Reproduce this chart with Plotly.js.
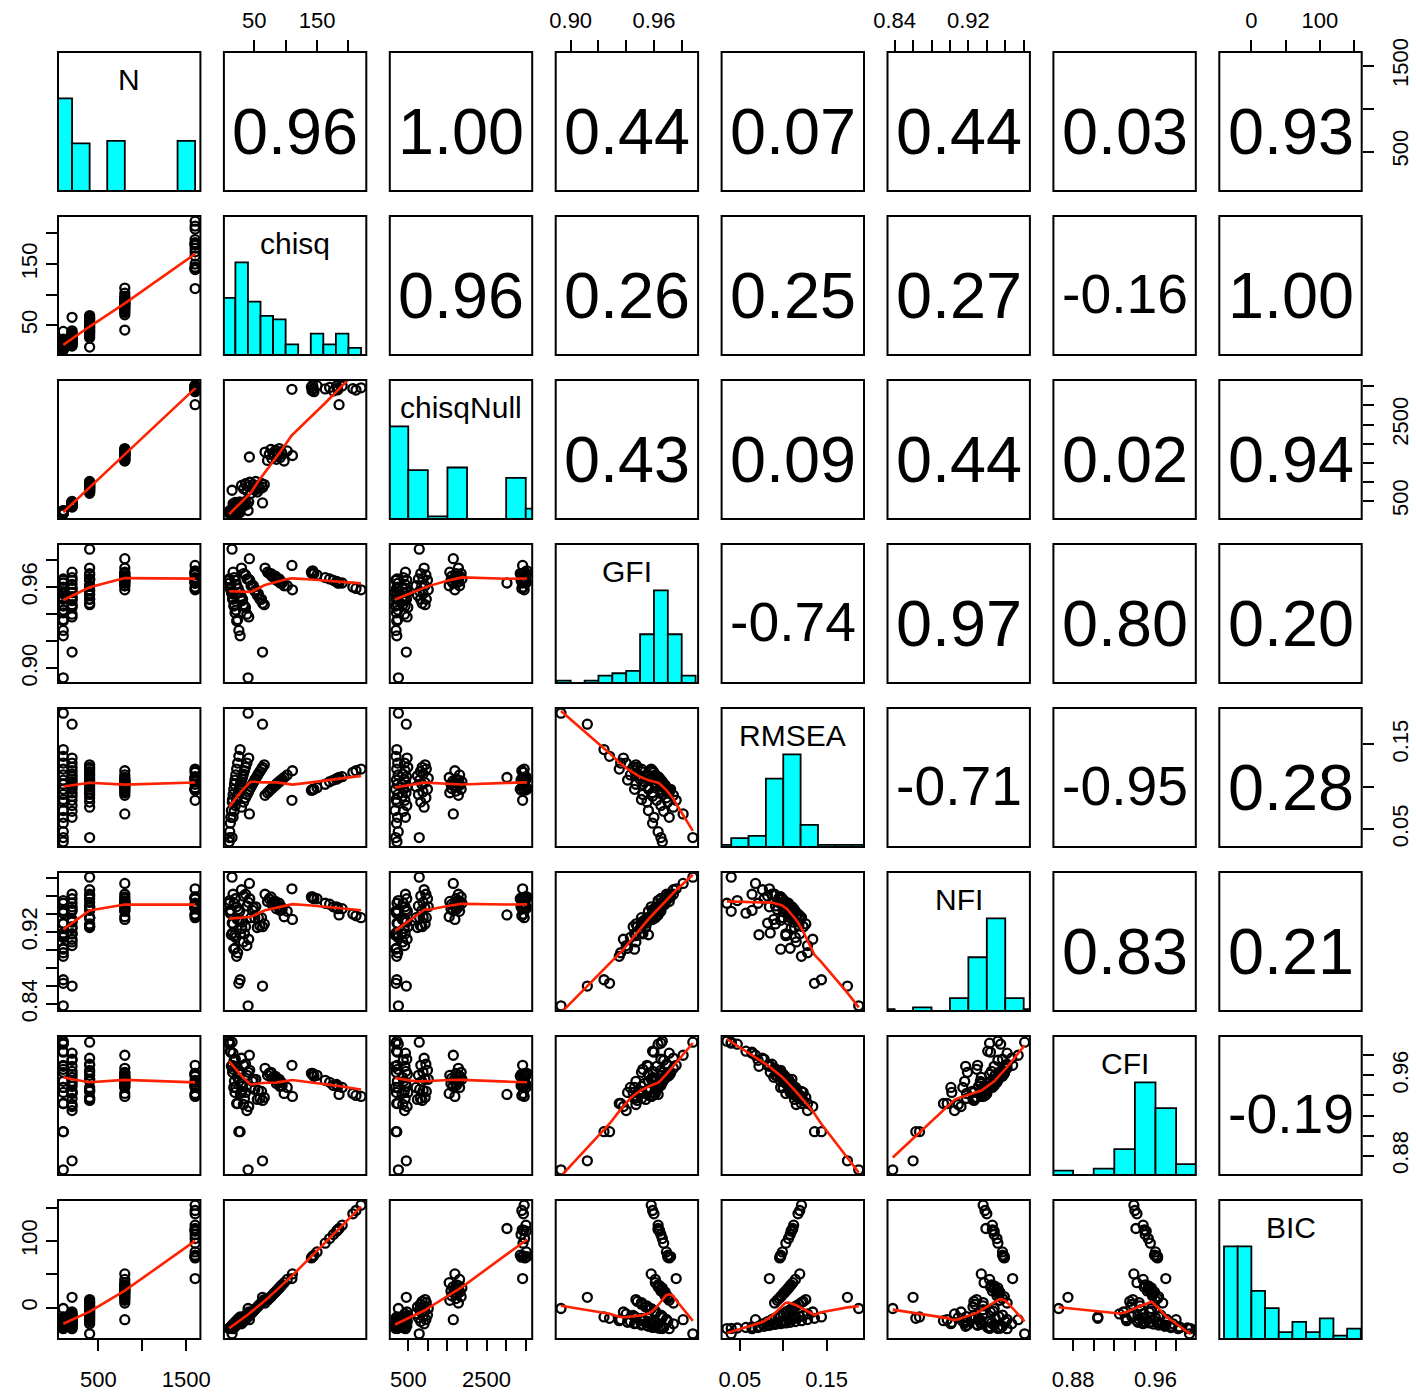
<!DOCTYPE html>
<html>
<head>
<meta charset="utf-8">
<script src="https://cdn.plot.ly/plotly-3.0.1.min.js"></script>
<style>
html, body { margin: 0; padding: 0; background: #ffffff; }
#chart { width: 1416px; height: 1397px; }
</style>
</head>
<body>
<div id="chart"></div>
<script>
// ---------------- data (one row per fitted model) ----------------
const varNames = ['N', 'chisq', 'chisqNull', 'GFI', 'RMSEA', 'NFI', 'CFI', 'BIC'];

const sampleN = [
  100,100,100,100,100,100,100,100,100,100,100,100,100,100,100,100,100,100,
  200,200,200,200,200,200,200,200,200,200,200,200,200,200,200,200,200,200,
  400,400,400,400,400,400,400,400,400,400,400,400,400,400,400,400,400,400,
  800,800,800,800,800,800,800,800,800,800,800,800,800,800,800,800,800,800,800,
  1600,1600,1600,1600,1600,1600,1600,1600,1600,1600,1600,1600,1600,1600,1600,1600,1600,1600
];
const chisq = [
  40.2,27.5,25.5,23.6,22.0,20.6,19.4,18.5,17.4,16.4,15.4,15.0,13.6,12.6,11.9,11.0,10.4,10.1,
  63.2,41.2,38.3,36.1,34.4,32.7,31.5,30.3,29.1,28.0,26.9,25.9,24.5,23.2,21.6,19.9,18.0,16.3,
  14.7,29.7,33.1,36.2,38.7,40.7,42.8,44.9,47.1,48.6,50.9,52.5,54.9,56.5,59.0,61.6,63.3,66.0,
  42.3,67.2,71.2,73.9,76.7,78.1,80.9,82.4,83.8,85.3,86.8,88.3,89.8,91.3,92.9,94.4,97.6,102.5,110.8,
  110,141,142,143,144,145,150,163,170,176,181,182,183,185,190,207,212,220
];
const chisqNull = [
  248,207,186,230,205,240,198,221,176,232,190,214,163,226,200,244,181,212,
  450,470,405,488,420,360,455,398,432,340,476,385,442,352,415,462,372,428,
  780,905,820,950,760,875,990,700,845,925,790,1010,735,880,810,960,855,930,
  1650,1780,1560,1720,1850,1610,1745,1680,1820,1590,1760,1700,1870,1640,1790,1725,1545,1810,1690,
  3420,3480,3390,3530,3440,3360,3515,3430,3470,3380,3510,3450,3410,3020,3505,3440,3400,3460
];
const gfi = [
  0.893,0.924,0.928,0.936,0.935,0.943,0.941,0.947,0.946,0.952,0.951,0.955,0.956,0.960,0.959,0.963,0.965,0.966,
  0.912,0.938,0.940,0.945,0.946,0.947,0.951,0.950,0.953,0.952,0.956,0.956,0.959,0.959,0.962,0.965,0.967,0.971,
  0.988,0.974,0.970,0.969,0.966,0.966,0.965,0.961,0.961,0.961,0.957,0.958,0.954,0.955,0.951,0.951,0.948,0.947,
  0.981,0.974,0.971,0.970,0.970,0.968,0.968,0.967,0.968,0.965,0.966,0.965,0.966,0.963,0.964,0.963,0.961,0.961,0.958,
  0.976,0.971,0.970,0.972,0.970,0.970,0.969,0.967,0.966,0.965,0.964,0.964,0.963,0.963,0.963,0.960,0.959,0.958
];
const rmsea = [
  0.187,0.144,0.136,0.128,0.121,0.114,0.108,0.103,0.097,0.091,0.085,0.082,0.072,0.064,0.057,0.047,0.040,0.035,
  0.174,0.134,0.128,0.123,0.119,0.115,0.112,0.109,0.106,0.103,0.100,0.097,0.093,0.089,0.084,0.078,0.071,0.064,
  0.040,0.076,0.082,0.087,0.091,0.094,0.097,0.100,0.103,0.105,0.108,0.110,0.113,0.115,0.118,0.121,0.123,0.126,
  0.068,0.090,0.093,0.095,0.097,0.098,0.100,0.101,0.102,0.103,0.104,0.105,0.106,0.107,0.108,0.109,0.111,0.114,0.119,
  0.084,0.096,0.096,0.097,0.097,0.097,0.099,0.103,0.106,0.108,0.109,0.110,0.110,0.111,0.112,0.117,0.119,0.121
];
const nfi = [
  0.838,0.867,0.863,0.897,0.893,0.914,0.902,0.916,0.901,0.929,0.919,0.930,0.917,0.944,0.941,0.955,0.943,0.952,
  0.860,0.912,0.905,0.926,0.918,0.909,0.931,0.924,0.933,0.918,0.943,0.933,0.945,0.934,0.948,0.957,0.952,0.962,
  0.981,0.967,0.960,0.962,0.949,0.953,0.957,0.936,0.944,0.947,0.936,0.948,0.925,0.936,0.927,0.936,0.926,0.929,
  0.974,0.962,0.954,0.957,0.959,0.951,0.954,0.951,0.954,0.946,0.951,0.948,0.952,0.944,0.948,0.945,0.937,0.943,0.934,
  0.968,0.959,0.958,0.959,0.958,0.957,0.957,0.952,0.951,0.948,0.948,0.947,0.946,0.939,0.946,0.940,0.938,0.936
];
const cfi = [
  0.866,0.904,0.904,0.932,0.932,0.948,0.943,0.954,0.948,0.966,0.963,0.970,0.969,0.983,0.984,0.991,0.992,0.994,
  0.875,0.929,0.925,0.943,0.937,0.931,0.949,0.944,0.952,0.942,0.961,0.954,0.964,0.958,0.969,0.976,0.975,0.982,
  0.993,0.977,0.970,0.971,0.960,0.963,0.965,0.948,0.954,0.956,0.946,0.956,0.936,0.945,0.937,0.944,0.935,0.938,
  0.980,0.967,0.960,0.962,0.963,0.957,0.958,0.956,0.959,0.952,0.955,0.953,0.956,0.949,0.953,0.950,0.942,0.948,0.939,
  0.970,0.962,0.961,0.962,0.961,0.959,0.960,0.955,0.953,0.950,0.951,0.950,0.949,0.941,0.948,0.942,0.940,0.939
];
const bic = [
  -1.2,-13.9,-15.9,-17.8,-19.4,-20.8,-22.0,-22.9,-24.0,-25.0,-26.0,-26.4,-27.8,-28.8,-29.5,-30.4,-31.0,-31.3,
  15.5,-6.5,-9.4,-11.6,-13.3,-15.0,-16.2,-17.4,-18.6,-19.7,-20.8,-21.8,-23.2,-24.5,-26.1,-27.8,-29.7,-31.4,
  -39.2,-24.2,-20.8,-17.7,-15.2,-13.2,-11.1,-9.0,-6.8,-5.3,-3.0,-1.4,1.0,2.6,5.1,7.7,9.4,12.1,
  -17.9,7.0,11.0,13.7,16.5,17.9,20.7,22.2,23.6,25.1,26.6,28.1,29.6,31.1,32.7,34.2,37.4,42.3,50.6,
  43.6,74.6,75.6,76.6,77.6,78.6,83.6,96.6,103.6,109.6,114.6,115.6,116.6,118.6,123.6,140.6,145.6,153.6
];

// ---------------- histogram bins ----------------
const nBreaks = [0,200,400,600,800,1000,1200,1400,1600];
const nCounts = [37,19,0,20,0,0,0,20];
const chisqBreaks = [0,20,40,60,80,100,120,140,160,180,200,220];
const chisqCounts = [16,26,15,11,10,3,0,6,3,6,2];
const chisqNullBreaks = [0,500,1000,1500,2000,2500,3000,3500,4000];
const chisqNullCounts = [36,19,1,20,0,0,16,4];
const gfiBreaks = [0.89,0.90,0.91,0.92,0.93,0.94,0.95,0.96,0.97,0.98,0.99];
const gfiCounts = [1,0,1,3,4,5,20,38,20,3];
const rmseaBreaks = [0.02,0.04,0.06,0.08,0.10,0.12,0.14,0.16,0.18,0.20];
const rmseaCounts = [1,4,5,31,42,10,1,1,1];
const nfiBreaks = [0.82,0.84,0.86,0.88,0.90,0.92,0.94,0.96,0.98,1.00];
const nfiCounts = [1,0,2,0,7,29,50,7,1];
const cfiBreaks = [0.86,0.88,0.90,0.92,0.94,0.96,0.98,1.00];
const cfiCounts = [2,0,3,12,43,31,5];
const bicBreaks = [-40,-20,0,20,40,60,80,100,120,140,160];
const bicCounts = [27,27,14,9,2,5,2,6,1,3];

// ---------------- tick marks and labels ----------------
const nTickVals = [500,1000,1500];
const nTickText = ['500','','1500'];
const chisqTickVals = [50,100,150,200];
const chisqTickText = ['50','','150',''];
const chisqNullTickVals = [500,1000,1500,2000,2500,3000,3500];
const chisqNullTickText = ['500','','','','2500','',''];
const gfiTickVals = [0.90,0.92,0.94,0.96,0.98];
const gfiTickText = ['0.90','','','0.96',''];
const rmseaTickVals = [0.05,0.10,0.15];
const rmseaTickText = ['0.05','','0.15'];
const nfiTickVals = [0.84,0.86,0.88,0.90,0.92,0.94,0.96,0.98];
const nfiTickText = ['0.84','','','','0.92','','',''];
const cfiTickVals = [0.88,0.90,0.92,0.94,0.96,0.98];
const cfiTickText = ['0.88','','','','0.96',''];
const bicTickVals = [0,50,100,150];
const bicTickText = ['0','','100',''];

// ---------------- correlations printed in the upper panels ----------------
const corRow1 = ['0.96','1.00','0.44','0.07','0.44','0.03','0.93'];
const corRow2 = ['0.96','0.26','0.25','0.27','-0.16','1.00'];
const corRow3 = ['0.43','0.09','0.44','0.02','0.94'];
const corRow4 = ['-0.74','0.97','0.80','0.20'];
const corRow5 = ['-0.71','-0.95','0.28'];
const corRow6 = ['0.83','0.21'];
const corRow7 = ['-0.19'];

// ---------------- helpers ----------------
const variables = [sampleN, chisq, chisqNull, gfi, rmsea, nfi, cfi, bic];
const tickVals = [nTickVals, chisqTickVals, chisqNullTickVals, gfiTickVals, rmseaTickVals, nfiTickVals, cfiTickVals, bicTickVals];
const tickTexts = [nTickText, chisqTickText, chisqNullTickText, gfiTickText, rmseaTickText, nfiTickText, cfiTickText, bicTickText];
const histBreaks = [nBreaks, chisqBreaks, chisqNullBreaks, gfiBreaks, rmseaBreaks, nfiBreaks, cfiBreaks, bicBreaks];
const histCounts = [nCounts, chisqCounts, chisqNullCounts, gfiCounts, rmseaCounts, nfiCounts, cfiCounts, bicCounts];
const corRows = [corRow1, corRow2, corRow3, corRow4, corRow5, corRow6, corRow7];

// R's lowess (clowess port), f = 2/3, iter = 3
function lowess(xIn, yIn, f, nsteps) {
  const n = xIn.length;
  const order = xIn.map((v, i) => i).sort((a, b) => (xIn[a] - xIn[b]) || (a - b));
  const x = order.map(i => xIn[i]);
  const y = order.map(i => yIn[i]);
  const delta = 0.01 * (x[n - 1] - x[0]);
  const ys = new Array(n).fill(0);
  const rw = new Array(n).fill(1);
  const res = new Array(n).fill(0);
  const w = new Array(n).fill(0);
  const ns = Math.max(2, Math.min(n, Math.floor(f * n + 1e-7)));
  const range = x[n - 1] - x[0];

  function lowest(xs, nleft, nright, userw) {
    const h = Math.max(xs - x[nleft], x[nright] - xs);
    const h9 = 0.999 * h, h1 = 0.001 * h;
    let a = 0, j = nleft;
    while (j < n) {
      w[j] = 0;
      const r = Math.abs(x[j] - xs);
      if (r <= h9) {
        if (r <= h1) w[j] = 1;
        else { const q = r / h; const t = 1 - q * q * q; w[j] = t * t * t; }
        if (userw) w[j] *= rw[j];
        a += w[j];
      } else if (x[j] > xs) break;
      j++;
    }
    const nrt = j - 1;
    if (a <= 0) return null;
    for (j = nleft; j <= nrt; j++) w[j] /= a;
    if (h > 0) {
      a = 0;
      for (j = nleft; j <= nrt; j++) a += w[j] * x[j];
      let b = xs - a;
      let c = 0;
      for (j = nleft; j <= nrt; j++) c += w[j] * (x[j] - a) * (x[j] - a);
      if (Math.sqrt(c) > 0.001 * range) {
        b /= c;
        for (j = nleft; j <= nrt; j++) w[j] *= (b * (x[j] - a) + 1);
      }
    }
    let s = 0;
    for (j = nleft; j <= nrt; j++) s += w[j] * y[j];
    return s;
  }

  for (let iter = 1; iter <= nsteps + 1; iter++) {
    let nleft = 0, nright = ns - 1, last = -1, i = 0;
    for (;;) {
      if (nright < n - 1) {
        const d1 = x[i] - x[nleft];
        const d2 = x[nright + 1] - x[i];
        if (d1 > d2) { nleft++; nright++; continue; }
      }
      const v = lowest(x[i], nleft, nright, iter > 1);
      ys[i] = (v === null) ? y[i] : v;
      if (last < i - 1) {
        const denom = x[i] - x[last];
        for (let j = last + 1; j < i; j++) {
          const alpha = (x[j] - x[last]) / denom;
          ys[j] = alpha * ys[i] + (1 - alpha) * ys[last];
        }
      }
      last = i;
      const cut = x[last] + delta;
      for (i = last + 1; i < n; i++) {
        if (x[i] > cut) break;
        if (x[i] === x[last]) { ys[i] = ys[last]; last = i; }
      }
      i = Math.max(last + 1, i - 1);
      if (last >= n - 1) break;
    }
    for (let k = 0; k < n; k++) res[k] = y[k] - ys[k];
    let sc = 0;
    for (let k = 0; k < n; k++) sc += Math.abs(res[k]);
    sc /= n;
    if (iter > nsteps) break;
    const ar = res.map(Math.abs).sort((p, q) => p - q);
    const m1 = Math.floor(n / 2);
    let cmad;
    if (n % 2 === 0) { const m2 = n - m1 - 1; cmad = 3 * (ar[m1] + ar[m2]); }
    else cmad = 6 * ar[m1];
    if (cmad < 1e-7 * sc) break;
    const c9 = 0.999 * cmad, c1 = 0.001 * cmad;
    for (let k = 0; k < n; k++) {
      const r = Math.abs(res[k]);
      if (r <= c1) rw[k] = 1;
      else if (r <= c9) { const u = r / cmad; rw[k] = (1 - u * u) * (1 - u * u); }
      else rw[k] = 0;
    }
  }
  return { x: x, y: ys };
}

function paddedRange(v) {
  const lo = Math.min(...v), hi = Math.max(...v), d = hi - lo;
  return [lo - 0.04 * d, hi + 0.04 * d];
}

// ---------------- geometry & style ----------------
const W = 1416, H = 1397;
const PW = 142.4, PH = 139;
const FONT = '"Liberation Sans", Arial, Helvetica, sans-serif';
const colLeft = j => 58 + 165.9 * j;
const rowTop = i => 52 + 164 * i;
const xName = j => (j === 0 ? 'x' : 'x' + (j + 1));
const yName = i => (i === 0 ? 'y' : 'y' + (i + 1));
const axKey = id => id[0] + 'axis' + id.slice(1);

const layout = {
  width: W, height: H,
  margin: { l: 0, r: 0, t: 0, b: 0, pad: 0 },
  paper_bgcolor: '#ffffff',
  plot_bgcolor: 'rgba(0,0,0,0)',
  showlegend: false,
  hovermode: false,
  font: { family: FONT, color: '#000000' },
  shapes: [],
  annotations: []
};

const baseAxis = {
  autorange: false, showgrid: false, zeroline: false, showline: false,
  ticks: 'outside', ticklen: 11, tickwidth: 2, tickcolor: '#000000',
  tickmode: 'array', automargin: false, fixedrange: true,
  tickfont: { family: FONT, size: 22, color: '#000000' }
};

for (let j = 0; j < 8; j++) {
  const bottom = j % 2 === 0;
  layout[axKey(xName(j))] = Object.assign({}, baseAxis, {
    domain: [colLeft(j) / W, (colLeft(j) + PW) / W],
    range: paddedRange(variables[j]),
    tickvals: tickVals[j], ticktext: tickTexts[j],
    tickangle: 0,
    side: bottom ? 'bottom' : 'top',
    anchor: bottom ? yName(7) : yName(0),
    ticklabelstandoff: bottom ? 10 : 3
  });
}
for (let i = 0; i < 8; i++) {
  const dom = [1 - (rowTop(i) + PH) / H, 1 - rowTop(i) / H];
  const right = i % 2 === 0;
  layout[axKey(yName(i))] = Object.assign({}, baseAxis, {
    domain: dom,
    range: paddedRange(variables[i]),
    tickvals: tickVals[i], ticktext: tickTexts[i],
    tickangle: -90,
    side: right ? 'right' : 'left',
    anchor: right ? xName(7) : xName(0),
    ticklabelstandoff: right ? 8 : 0
  });
  layout['yaxis' + (9 + i)] = {
    domain: dom, range: [0, 1.5], autorange: false, visible: false,
    fixedrange: true, anchor: xName(i), showgrid: false, zeroline: false
  };
}

const traces = [];
const charWidth = c => (c === '.' ? 0.278 : (c === '-' ? 0.333 : 0.556));

for (let i = 0; i < 8; i++) {
  for (let j = 0; j < 8; j++) {
    const x0 = colLeft(j), y0 = rowTop(i);
    layout.shapes.push({
      type: 'rect', xref: 'paper', yref: 'paper', layer: 'above',
      x0: x0 / W, x1: (x0 + PW) / W, y0: 1 - (y0 + PH) / H, y1: 1 - y0 / H,
      line: { color: '#000000', width: 2 }, fillcolor: 'rgba(0,0,0,0)'
    });
    if (i === j) {
      const br = histBreaks[i], ct = histCounts[i];
      const mx = Math.max(...ct);
      traces.push({
        type: 'bar',
        x: ct.map((c, k) => (br[k] + br[k + 1]) / 2),
        y: ct.map(c => c / mx),
        width: ct.map((c, k) => br[k + 1] - br[k]),
        xaxis: xName(i), yaxis: 'y' + (9 + i),
        marker: { color: '#00ffff', line: { color: '#000000', width: 1.8 } },
        hoverinfo: 'skip'
      });
      layout.annotations.push({
        xref: 'paper', yref: 'paper',
        x: (x0 + PW / 2) / W, y: 1 - (y0 + 27.5) / H,
        xanchor: 'center', yanchor: 'middle', showarrow: false,
        text: varNames[i],
        font: { family: FONT, size: 30, color: '#000000' }
      });
    } else if (i > j) {
      traces.push({
        type: 'scatter', mode: 'markers',
        x: variables[j], y: variables[i],
        xaxis: xName(j), yaxis: yName(i),
        marker: { symbol: 'circle-open', size: 9, color: '#000000', line: { width: 2.3, color: '#000000' } },
        hoverinfo: 'skip', cliponaxis: false
      });
      const sm = lowess(variables[j], variables[i], 2 / 3, 3);
      traces.push({
        type: 'scatter', mode: 'lines',
        x: sm.x, y: sm.y,
        xaxis: xName(j), yaxis: yName(i),
        line: { color: '#ff2200', width: 2.6 },
        hoverinfo: 'skip'
      });
    } else {
      traces.push({
        type: 'scatter', mode: 'markers', x: [], y: [],
        xaxis: xName(j), yaxis: yName(i), hoverinfo: 'skip', showlegend: false
      });
      const txt = corRows[i][j - i - 1];
      let em = 0;
      for (const c of txt) em += charWidth(c);
      const size = 126 / em;
      layout.annotations.push({
        xref: 'paper', yref: 'paper',
        x: (x0 + PW / 2) / W, y: 1 - (y0 + PH / 2 + 0.15 * size) / H,
        xanchor: 'center', yanchor: 'middle', showarrow: false,
        text: txt,
        font: { family: FONT, size: size, color: '#000000' }
      });
    }
  }
}

Plotly.newPlot('chart', traces, layout, { staticPlot: true, displayModeBar: false });
</script>
</body>
</html>
